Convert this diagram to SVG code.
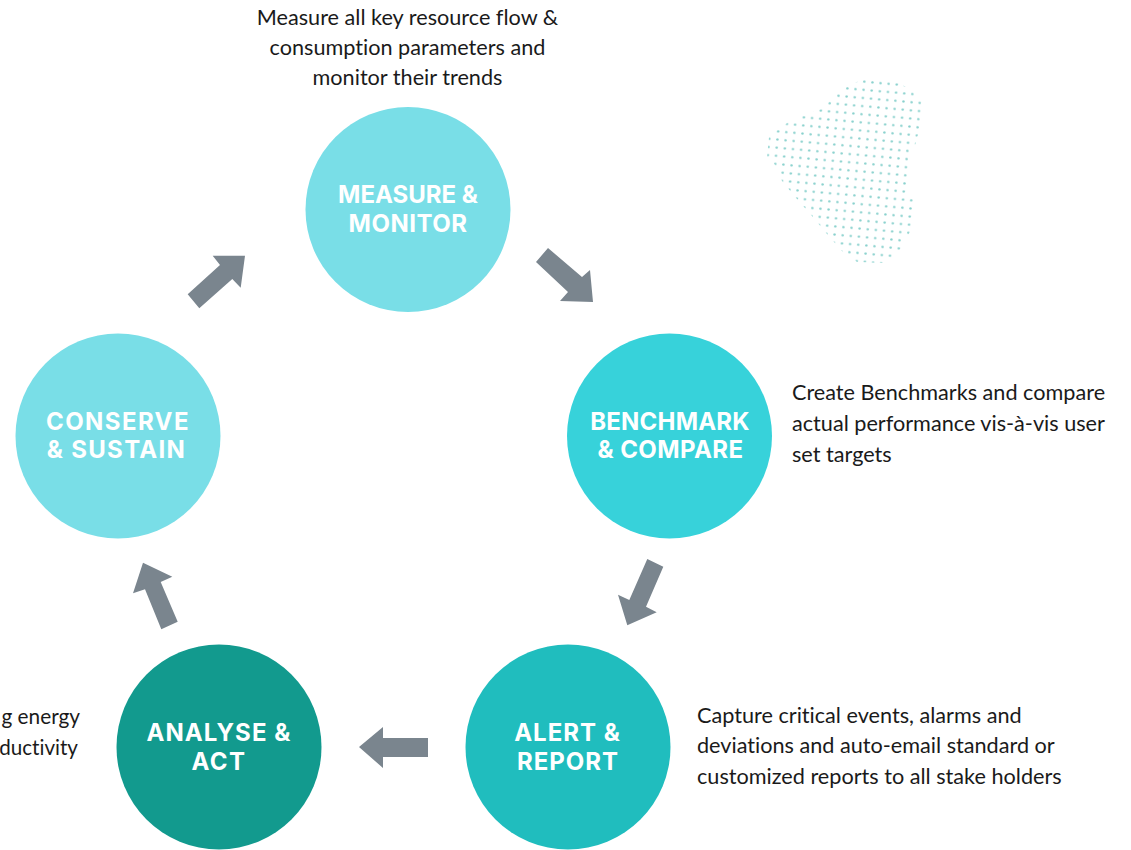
<svg xmlns="http://www.w3.org/2000/svg" width="1131" height="850" viewBox="0 0 1131 850">
<style>
.h{font-family:"Inter","Liberation Sans",sans-serif;font-weight:700;font-size:24px;fill:#fff;text-anchor:middle}
.b{font-family:"Lato","Liberation Sans",sans-serif;font-size:21.65px;fill:#1a1a1a;font-variant-ligatures:none}
.a{fill:#7a858e}
</style>
<defs>
<pattern id="dots" x="860.225" y="77.625" width="8.15" height="8.15" patternUnits="userSpaceOnUse" patternTransform="rotate(5 864.3 81.7)">
<circle cx="4.075" cy="4.075" r="1.2" fill="#86d0cc"/>
</pattern>
</defs>
<rect width="1131" height="850" fill="#fff"/>
<polygon id="dot-texture" fill="url(#dots)" points="864,79 897,82 915,92 922,102 920,127 911,160 908,193 915,198 911,230 898,254 885,263 857,262 842,251 827,234 812,216 797,199 782,181 775,165 767,157 769,137 777,130 787,123 804,115 821,109 829,102 837,94 847,86"/>
<g id="connectors">
<polygon class="a" points="548,248 536,262 568,292 560,301 593,302 590,270 582,277"/>
<polygon class="a" points="647.3,559 663.3,566.7 646,606.7 656.7,612.3 627.3,625.3 618,594.7 629.3,600"/>
<polygon class="a" points="428,738 428,757 383,757 383,768 359,747 383,727 383,738"/>
<polygon class="a" points="177.7,621.7 161.3,629.3 145,589.3 133,593.3 143,562.7 172.3,576.7 160.7,582"/>
<polygon class="a" points="187.7,294.3 199.3,308.3 232.3,279 240.7,287.7 245,255.7 212.7,255.7 220,265"/>
</g>
<g id="measure"><circle cx="408" cy="209.500" r="102.500" fill="#79dee7"/><text class="h" x="408" y="203">MEASURE &amp;</text><text class="h" x="408" y="232" letter-spacing="0.5">MONITOR</text></g>
<g id="benchmark"><circle cx="669.500" cy="436" r="102.500" fill="#37d2da"/><text class="h" x="670" y="430" letter-spacing="0.2">BENCHMARK</text><text class="h" x="670.500" y="458" letter-spacing="0.4">&amp; COMPARE</text></g>
<g id="alert"><circle cx="568" cy="747" r="102.500" fill="#20bdbe"/><text class="h" x="567.500" y="741" letter-spacing="1">ALERT &amp;</text><text class="h" x="568" y="770" letter-spacing="1">REPORT</text></g>
<g id="analyse"><circle cx="219" cy="747" r="102.500" fill="#129a8e"/><text class="h" x="219" y="741" letter-spacing="1.1">ANALYSE &amp;</text><text class="h" x="219" y="770" letter-spacing="1.5">ACT</text></g>
<g id="conserve"><circle cx="118" cy="436" r="102.500" fill="#79dee7"/><text class="h" x="118" y="430" letter-spacing="1.4">CONSERVE</text><text class="h" x="116.500" y="458" letter-spacing="1.3">&amp; SUSTAIN</text></g>
<g id="text-measure">
<text class="b" x="407.500" y="25" text-anchor="middle">Measure all key resource flow &amp;</text>
<text class="b" x="407.500" y="55" text-anchor="middle">consumption parameters and</text>
<text class="b" x="407.500" y="85" text-anchor="middle">monitor their trends</text>
</g>
<g id="text-benchmark">
<text class="b" x="792" y="400">Create Benchmarks and compare</text>
<text class="b" x="792" y="431">actual performance vis-à-vis user</text>
<text class="b" x="792" y="462">set targets</text>
</g>
<g id="text-alert">
<text class="b" x="697" y="723">Capture critical events, alarms and</text>
<text class="b" x="697" y="753">deviations and auto-email standard or</text>
<text class="b" x="697" y="784">customized reports to all stake holders</text>
</g>
<g id="text-analyse">
<text class="b" x="80" y="724" text-anchor="end" style="font-size:20.8px">g energy</text>
<text class="b" x="78" y="755" text-anchor="end" style="font-size:20.6px">ductivity</text>
</g>
</svg>
